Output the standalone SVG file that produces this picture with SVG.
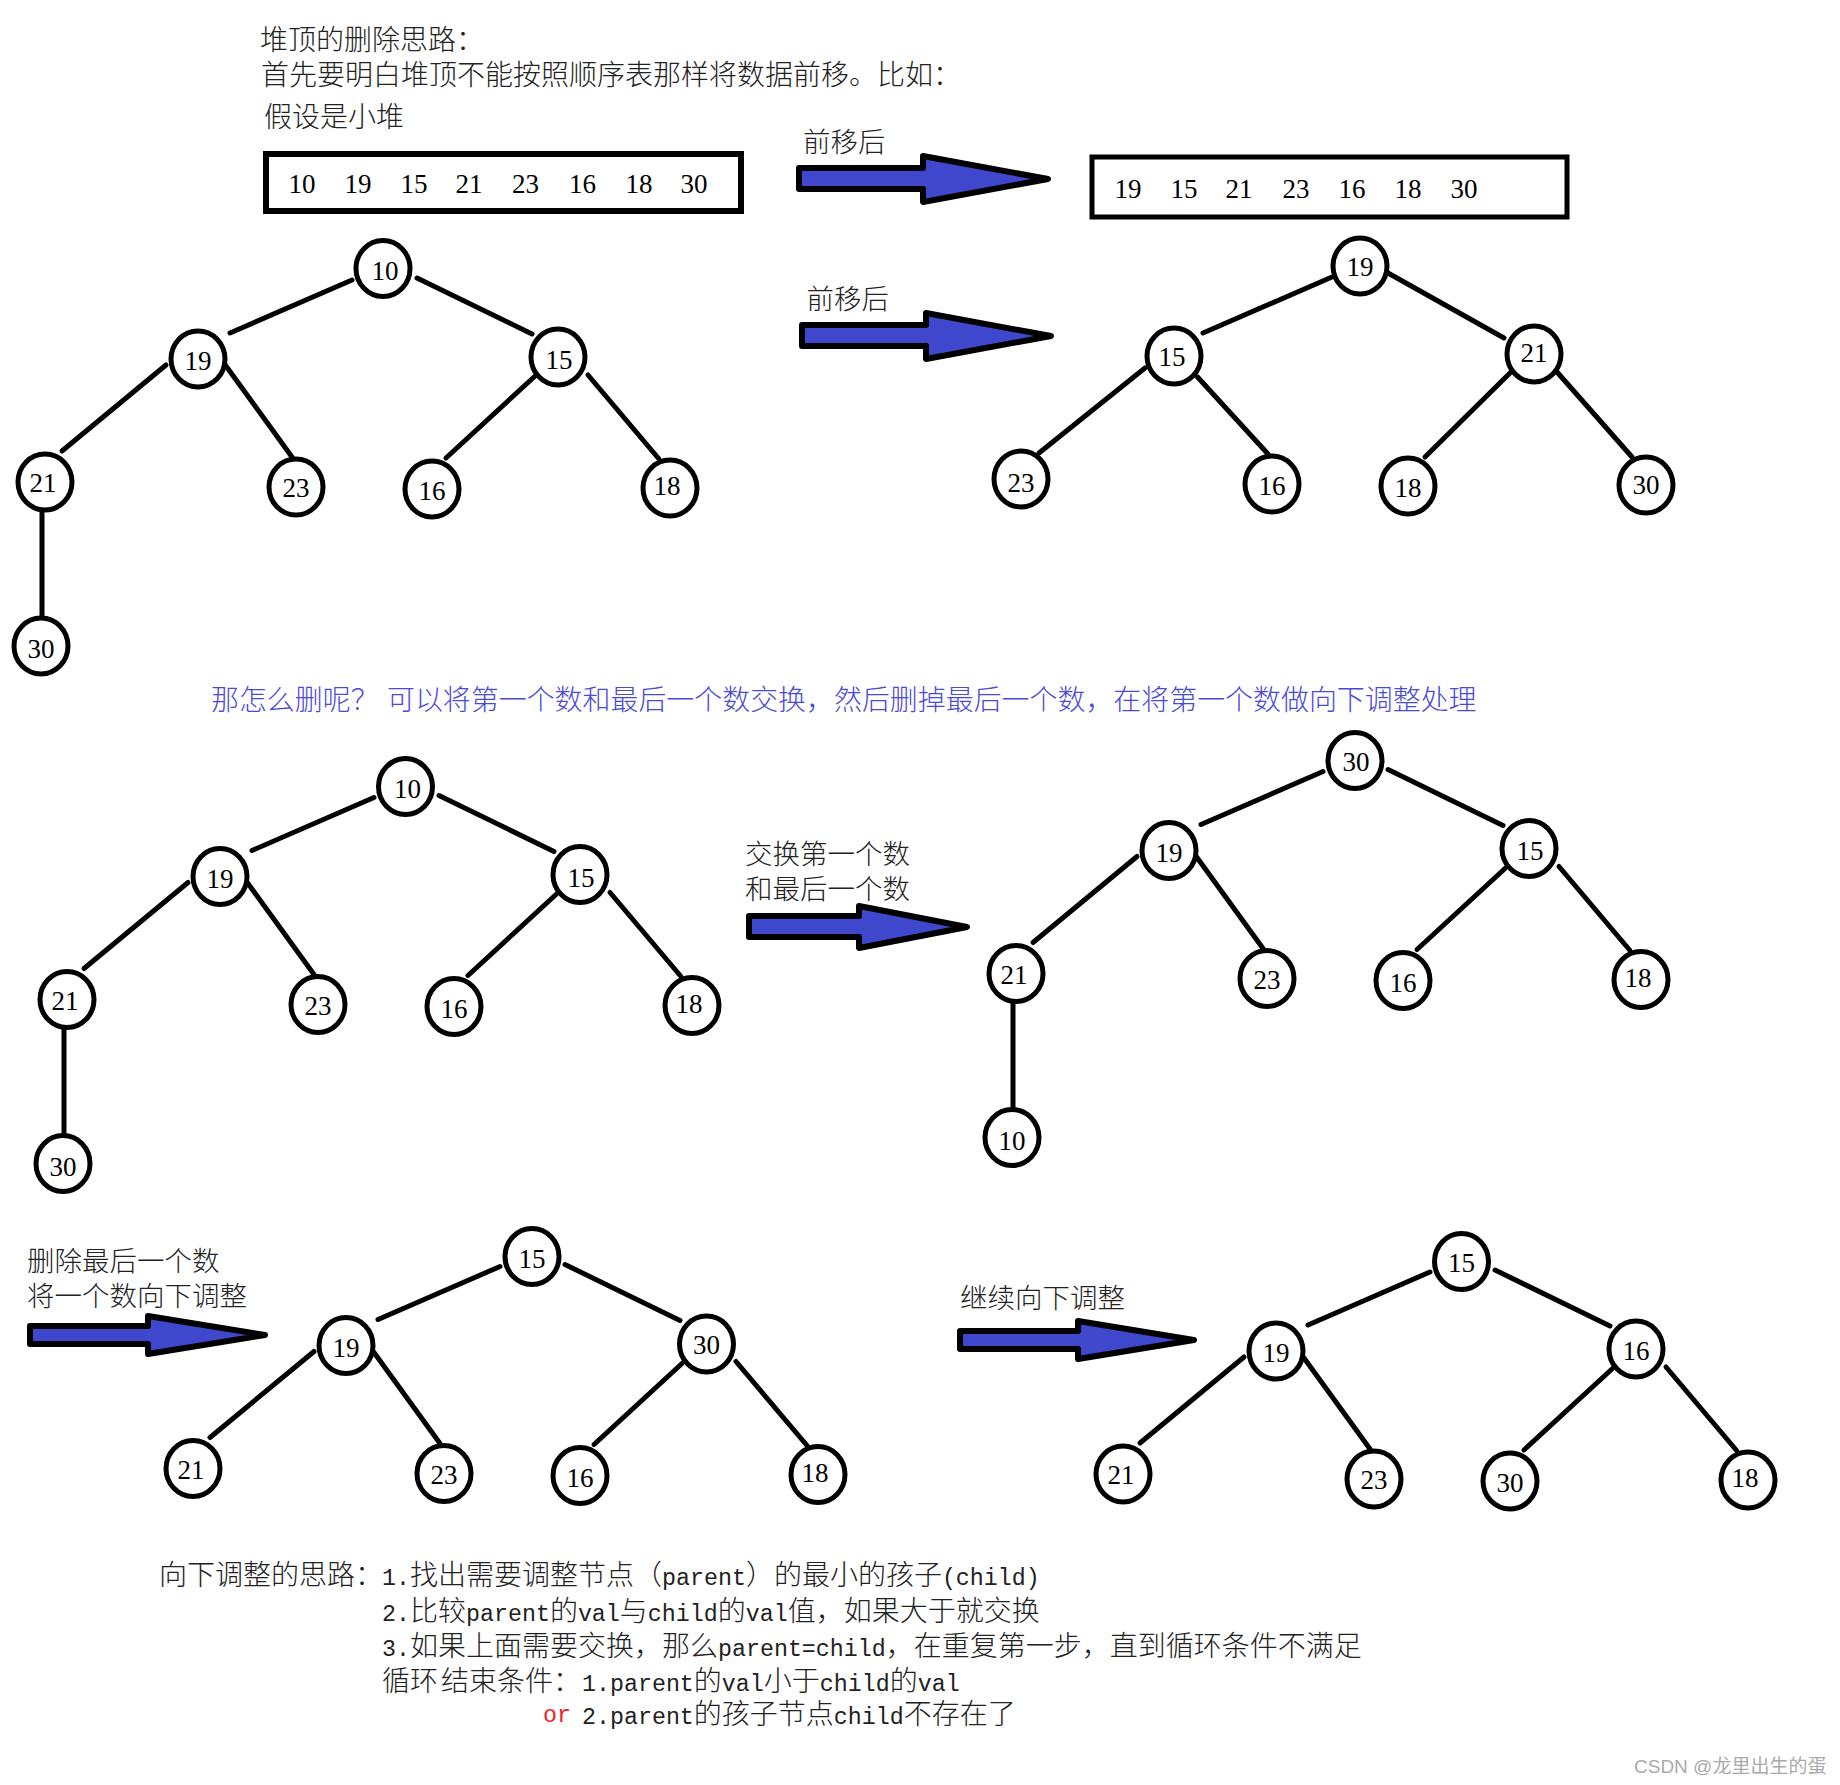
<svg xmlns="http://www.w3.org/2000/svg" width="1840" height="1785" viewBox="0 0 1840 1785">
<style>
text{font-family:"Noto Sans CJK SC","Liberation Serif",serif;font-size:28px;font-weight:300;fill:#222}
.l{font-size:27.5px}
.m{font-family:"Liberation Mono","Noto Sans CJK SC",monospace;font-size:23.3px;font-weight:400}
text.blue{fill:#4a4ad8;font-size:27.95px}
.n ellipse{rx:27px;ry:28px;fill:#fff;stroke:#000;stroke-width:5}
.n text,text.d{font-family:"Liberation Serif","Noto Sans CJK SC",serif;font-size:27px;font-weight:400;text-anchor:middle;fill:#000}
.e line{stroke:#000;stroke-width:5;stroke-linecap:round}
.box{fill:#fff;stroke:#000}
.arrow{fill:#3f48cc;stroke:#000;stroke-width:6;stroke-linejoin:round}
text.wm{font-family:"Liberation Sans","Noto Sans CJK SC",sans-serif;font-size:19px;font-weight:400;fill:#aaa}
</style>
<defs>
<g id="edges" class="e">
<line x1="352" y1="280" x2="230" y2="333"/>
<line x1="417" y1="278" x2="532" y2="334"/>
<line x1="166" y1="365" x2="62" y2="451"/>
<line x1="226" y1="366" x2="292" y2="457"/>
<line x1="534" y1="377" x2="446" y2="458"/>
<line x1="588" y1="375" x2="659" y2="459"/>
</g>
<g id="edge-last" class="e"><line x1="42" y1="512" x2="42" y2="616"/></g>
</defs>
<rect width="1840" height="1785" fill="#fff"/>

<g id="connectors" class="e">
<use href="#edges"/><use href="#edge-last"/>
<use href="#edges" x="22" y="517.5"/><use href="#edge-last" x="22" y="517.5"/>
<use href="#edges" x="971" y="491.5"/><use href="#edge-last" x="971" y="491.5"/>
<use href="#edges" x="148" y="986.5"/>
<use href="#edges" x="1078" y="992"/>
<line x1="1332" y1="277" x2="1203" y2="333"/>
<line x1="1388" y1="273" x2="1504" y2="338"/>
<line x1="1145" y1="368" x2="1039" y2="453"/>
<line x1="1197.5" y1="377" x2="1268" y2="454"/>
<line x1="1511" y1="372" x2="1425" y2="457"/>
<line x1="1557" y1="372" x2="1632" y2="457"/>
</g>

<g id="intro">
<text x="260" y="50">堆顶的删除思路：</text>
<text x="261" y="85">首先要明白堆顶不能按照顺序表那样将数据前移。比如：</text>
<text x="264" y="127">假设是小堆</text>
</g>

<g id="box-before">
<rect class="box" x="266" y="154" width="475" height="57" stroke-width="6"/>
<text class="d" x="302" y="193">10</text><text class="d" x="358" y="193">19</text><text class="d" x="414" y="193">15</text><text class="d" x="469" y="193">21</text><text class="d" x="525.500" y="193">23</text><text class="d" x="582.500" y="193">16</text><text class="d" x="639" y="193">18</text><text class="d" x="694" y="193">30</text>
</g>
<g id="box-after">
<rect class="box" x="1092" y="157" width="475" height="60" stroke-width="5"/>
<text class="d" x="1128" y="198">19</text><text class="d" x="1184" y="198">15</text><text class="d" x="1239" y="198">21</text><text class="d" x="1296" y="198">23</text><text class="d" x="1352" y="198">16</text><text class="d" x="1408" y="198">18</text><text class="d" x="1464" y="198">30</text>
</g>

<g id="arrow-1">
<text class="l" x="803" y="152">前移后</text>
<polygon class="arrow" points="799,168 923,168 923,156 1048,179 923,202 923,189 799,189"/>
</g>
<g id="arrow-2">
<text class="l" x="806.500" y="309">前移后</text>
<polygon class="arrow" points="802,325 926,325 926,313 1051,336 926,359 926,346 802,346"/>
</g>
<g id="arrow-3">
<text class="l" x="745" y="864">交换第一个数</text>
<text class="l" x="745" y="899">和最后一个数</text>
<polygon class="arrow" points="749,916 859,916 859,906 967,927 859,948 859,937 749,937"/>
</g>
<g id="arrow-4">
<text class="l" x="27" y="1270.500">删除最后一个数</text>
<text class="l" x="27" y="1305.500">将一个数向下调整</text>
<polygon class="arrow" points="30,1326 148,1326 148,1316 265,1335 148,1354 148,1344 30,1344"/>
</g>
<g id="arrow-5">
<text class="l" x="960" y="1307.500">继续向下调整</text>
<polygon class="arrow" points="960,1331 1078,1331 1078,1321 1194,1340 1078,1359 1078,1349 960,1349"/>
</g>

<g id="tree-1">
<g id="t1-10" class="n" transform="translate(383,268.5)"><ellipse/><text x="2" y="11.5">10</text></g>
<g id="t1-19" class="n" transform="translate(198,359)"><ellipse/><text y="11">19</text></g>
<g id="t1-15" class="n" transform="translate(558,357)"><ellipse/><text x="1" y="12">15</text></g>
<g id="t1-21" class="n" transform="translate(45,482)"><ellipse/><text x="-2" y="10">21</text></g>
<g id="t1-23" class="n" transform="translate(296,487)"><ellipse/><text y="10">23</text></g>
<g id="t1-16" class="n" transform="translate(432,489)"><ellipse/><text y="11">16</text></g>
<g id="t1-18" class="n" transform="translate(670,488)"><ellipse/><text x="-3" y="7">18</text></g>
<g id="t1-30" class="n" transform="translate(41,646)"><ellipse/><text y="12">30</text></g>
</g>

<g id="tree-2">
<g id="t2-19" class="n" transform="translate(1360,266)"><ellipse/><text y="10">19</text></g>
<g id="t2-15" class="n" transform="translate(1174,356)"><ellipse/><text x="-2" y="10">15</text></g>
<g id="t2-21" class="n" transform="translate(1534,354)"><ellipse/><text y="8">21</text></g>
<g id="t2-23" class="n" transform="translate(1021,479)"><ellipse/><text y="13">23</text></g>
<g id="t2-16" class="n" transform="translate(1272,484)"><ellipse/><text y="11">16</text></g>
<g id="t2-18" class="n" transform="translate(1408,486)"><ellipse/><text y="11">18</text></g>
<g id="t2-30" class="n" transform="translate(1646,485)"><ellipse/><text y="9">30</text></g>
</g>

<text id="explain" class="blue" x="211" y="709.500">那怎么删呢？<tspan x="387">可以将第一个数和最后一个数交换，然后删掉最后一个数，在将第一个数做向下调整处理</tspan></text>

<g id="tree-3">
<g id="t3-10" class="n" transform="translate(405.5,786.5)"><ellipse/><text x="2" y="11.5">10</text></g>
<g id="t3-19" class="n" transform="translate(220,876.5)"><ellipse/><text y="11">19</text></g>
<g id="t3-15" class="n" transform="translate(580,874.5)"><ellipse/><text x="1" y="12">15</text></g>
<g id="t3-21" class="n" transform="translate(67,999.5)"><ellipse/><text x="-2" y="10">21</text></g>
<g id="t3-23" class="n" transform="translate(318,1004.5)"><ellipse/><text y="10">23</text></g>
<g id="t3-16" class="n" transform="translate(454,1006.5)"><ellipse/><text y="11">16</text></g>
<g id="t3-18" class="n" transform="translate(692,1005.5)"><ellipse/><text x="-3" y="7">18</text></g>
<g id="t3-30" class="n" transform="translate(63,1163.5)"><ellipse/><text y="12">30</text></g>
</g>

<g id="tree-4">
<g id="t4-30" class="n" transform="translate(1355,760.5)"><ellipse/><text x="1" y="10">30</text></g>
<g id="t4-19" class="n" transform="translate(1169,850.5)"><ellipse/><text y="11">19</text></g>
<g id="t4-15" class="n" transform="translate(1529,848.5)"><ellipse/><text x="1" y="11">15</text></g>
<g id="t4-21" class="n" transform="translate(1016,973.5)"><ellipse/><text x="-2" y="10">21</text></g>
<g id="t4-23" class="n" transform="translate(1267,978.5)"><ellipse/><text y="10">23</text></g>
<g id="t4-16" class="n" transform="translate(1403,980.5)"><ellipse/><text y="11">16</text></g>
<g id="t4-18" class="n" transform="translate(1641,979.5)"><ellipse/><text x="-3" y="7">18</text></g>
<g id="t4-10" class="n" transform="translate(1012,1137.5)"><ellipse/><text y="12">10</text></g>
</g>

<g id="tree-5">
<g id="t5-15" class="n" transform="translate(532,1256.5)"><ellipse/><text y="11">15</text></g>
<g id="t5-19" class="n" transform="translate(346,1345.5)"><ellipse/><text y="11">19</text></g>
<g id="t5-30" class="n" transform="translate(706.5,1344)"><ellipse/><text y="10">30</text></g>
<g id="t5-21" class="n" transform="translate(193,1468.5)"><ellipse/><text x="-2" y="10">21</text></g>
<g id="t5-23" class="n" transform="translate(444,1473.5)"><ellipse/><text y="10">23</text></g>
<g id="t5-16" class="n" transform="translate(580,1475.5)"><ellipse/><text y="11">16</text></g>
<g id="t5-18" class="n" transform="translate(818,1474.5)"><ellipse/><text x="-3" y="7">18</text></g>
</g>

<g id="tree-6">
<g id="t6-15" class="n" transform="translate(1461.500,1261.5)"><ellipse/><text y="10.5">15</text></g>
<g id="t6-19" class="n" transform="translate(1276,1351)"><ellipse/><text y="11">19</text></g>
<g id="t6-16" class="n" transform="translate(1636,1349)"><ellipse/><text y="11">16</text></g>
<g id="t6-21" class="n" transform="translate(1123,1474)"><ellipse/><text x="-2" y="10">21</text></g>
<g id="t6-23" class="n" transform="translate(1374,1479)"><ellipse/><text y="10">23</text></g>
<g id="t6-30" class="n" transform="translate(1510,1481)"><ellipse/><text y="11">30</text></g>
<g id="t6-18" class="n" transform="translate(1748,1480)"><ellipse/><text x="-3" y="7">18</text></g>
</g>

<g id="notes">
<text x="159" y="1585">向下调整的思路：<tspan x="382" class="m">1.</tspan>找出需要调整节点（<tspan class="m">parent</tspan>）的最小的孩子<tspan class="m">(child)</tspan></text>
<text x="382" y="1621"><tspan class="m">2.</tspan>比较<tspan class="m">parent</tspan>的<tspan class="m">val</tspan>与<tspan class="m">child</tspan>的<tspan class="m">val</tspan>值，如果大于就交换</text>
<text x="382" y="1656"><tspan class="m">3.</tspan>如果上面需要交换，那么<tspan class="m">parent=child</tspan>，在重复第一步，直到循环条件不满足</text>
<text x="382" y="1691">循环<tspan dx="3">结束条件：</tspan><tspan x="582" class="m">1.parent</tspan>的<tspan class="m">val</tspan>小于<tspan class="m">child</tspan>的<tspan class="m">val</tspan></text>
<text x="543" y="1722" class="m" style="fill:#ed1c24">or</text>
<text x="582" y="1724"><tspan class="m">2.parent</tspan>的孩子节点<tspan class="m">child</tspan>不存在了</text>
</g>

<text id="watermark" class="wm" x="1634" y="1773">CSDN @龙里出生的蛋</text>
</svg>
